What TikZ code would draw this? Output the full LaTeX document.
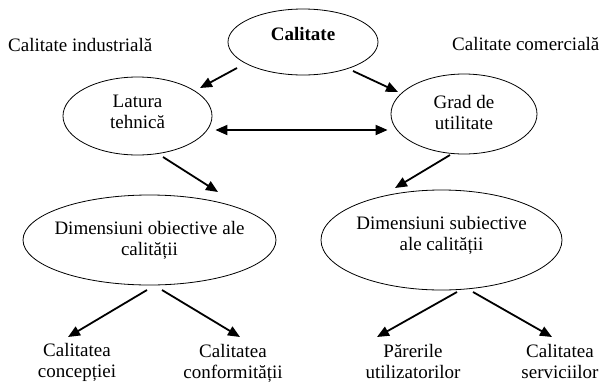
\documentclass[tikz,border=0pt]{standalone}
\usepackage{fontspec}
\setmainfont{Liberation Serif}
\usetikzlibrary{arrows.meta,calc,shapes.geometric}

% centred lines whose box has no width, so the ellipse keeps its given size
\newcommand\elltext[1]{\makebox[0pt]{\begin{tabular}[b]{@{}c@{}}#1\end{tabular}}}
\newcommand\lbltext[1]{\begin{tabular}[t]{@{}c@{}}#1\end{tabular}}

\begin{document}
\begin{tikzpicture}[x=1pt,y=-1pt,
  every node/.style={font=\fontsize{19}{21}\selectfont, inner sep=0pt},
  ell/.style={draw, ellipse, line width=0.8pt},
  arr/.style={-{Triangle[length=12pt,width=10pt]}, line width=1.8pt},
  dbl/.style={{Triangle[length=12pt,width=10pt]}-{Triangle[length=12pt,width=10pt]}, line width=1.8pt}]
\useasboundingbox (0,0) rectangle (600,381);

% ellipses
\node[ell, minimum width=150pt, minimum height=66pt, text height=0pt, text depth=4pt]
  (cal) at (303,42) {\elltext{\textbf{Calitate}}};
\node[ell, minimum width=149pt, minimum height=78pt, text height=24pt, text depth=0pt]
  (lat) at (137.5,116) {\elltext{Latura\\tehnică}};
\node[ell, minimum width=146pt, minimum height=80pt, text height=30pt, text depth=0pt]
  (grad) at (464,114) {\elltext{Grad de\\utilitate}};
\node[ell, minimum width=253pt, minimum height=90pt, text height=30pt, text depth=0pt]
  (dimo) at (149.5,240) {\elltext{Dimensiuni obiective ale\\calității}};
\node[ell, minimum width=241pt, minimum height=100pt, text height=20pt, text depth=0pt]
  (dims) at (441.5,240) {\elltext{Dimensiuni subiective\\ale calității}};

% side headings
\node[anchor=base west] (ind) at (8,51) {Calitate industrială};
\node[anchor=base west] (com) at (452,50) {Calitate comercială};

% bottom labels
\node[anchor=base] (conc) at (77,356) {\lbltext{Calitatea\\concepției}};
\node[anchor=base] (conf) at (233,357) {\lbltext{Calitatea\\conformității}};
\node[anchor=base] (par) at (413,357) {\lbltext{Părerile\\utilizatorilor}};
\node[anchor=base] (serv) at (560,357) {\lbltext{Calitatea\\serviciilor}};

% connectors
\draw[arr] ($(cal)+(-66,26)$) -- ($(lat)+(62.5,-28)$);
\draw[arr] ($(cal)+(50,29)$) -- ($(grad)+(-66,-22)$);
\coordinate (lvl) at (300,130);
\draw[dbl, shorten <=3pt, shorten >=3pt] (lat.east |- lvl) -- (grad.west |- lvl);
\draw[arr] ($(lat)+(25.5,41)$) -- ($(dimo)+(68.5,-48)$);
\draw[arr] ($(grad)+(-14,41)$) -- ($(dims)+(-46.5,-52)$);
\draw[arr] ($(dimo)+(-2.5,50)$) -- ($(conc.base)+(-9,-19)$);
\draw[arr] ($(dimo)+(12.5,50)$) -- ($(conf.base)+(7,-20)$);
\draw[arr] ($(dims)+(15.5,52)$) -- ($(par.base)+(-36,-20)$);
\draw[arr] ($(dims)+(31.5,52)$) -- ($(serv.base)+(-8,-20)$);
\end{tikzpicture}
\end{document}
